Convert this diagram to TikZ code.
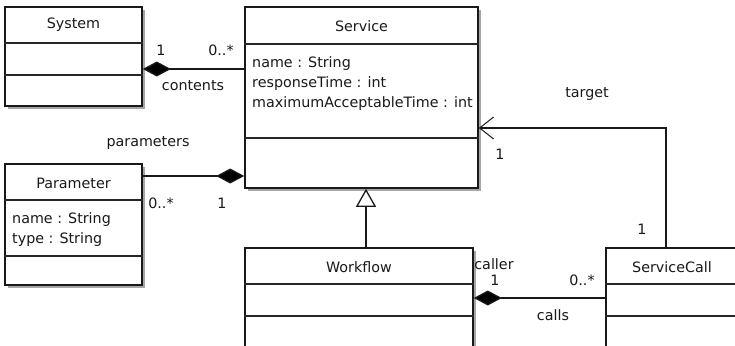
\documentclass[tikz,border=0pt]{standalone}
\usepackage{fontspec}
\setmainfont{DejaVu Sans}
\usetikzlibrary{arrows.meta,calc}

\tikzset{
  umlbox/.style={draw=black!90, line width=1.6pt, fill=white, inner sep=0pt,
    minimum width=#1},
  shadowbox/.style={fill=black!35, draw=none},
  sepline/.style={draw=black!85, line width=1.3pt},
  conn/.style={draw=black!90, line width=1.3pt},
  composite/.style={conn, {Diamond[length=28pt, width=15pt, fill=black]}-},
  navig/.style={conn, -{Straight Barb[length=14pt, width=22pt, line width=1pt]}},
  inherit/.style={conn, -{Triangle[open, length=18pt, width=20pt, fill=white]}},
  lbl/.style={inner sep=0pt, font=\fontsize{14.3}{16}\selectfont, text=black!90},
  title/.style={inner sep=0pt, font=\fontsize{14.3}{16}\selectfont, text=black!90},
  attr/.style={inner sep=0pt, anchor=base west, font=\fontsize{14.3}{16}\selectfont, text=black!90},
}

\begin{document}
\begin{tikzpicture}[x=1pt, y=-1pt]
\useasboundingbox (0,0) rectangle (735,345);
\fill[white] (0,0) rectangle (735,345);
\clip (0,0) rectangle (735,345);

% ---- drop shadows of the class boxes
\fill[shadowbox] (8,10) rectangle (145,109);
\fill[shadowbox] (248,10) rectangle (481,191);
\fill[shadowbox] (8,167) rectangle (145,288);
\fill[shadowbox] (248,251) rectangle (476,400);
\fill[shadowbox] (609,251) rectangle (800,400);

% ---- class boxes
\node[umlbox=137pt, minimum height=99pt]  (system)      at (73.5,56.5)  {};
\node[umlbox=233pt, minimum height=181pt] (service)     at (361.5,97.5) {};
\node[umlbox=137pt, minimum height=121pt] (parameter)   at (73.5,224.5) {};
\node[umlbox=228pt, minimum height=132pt] (workflow)    at (359,314)    {};
\node[umlbox=194pt, minimum height=132pt] (servicecall) at (703,314)    {};

% ---- compartment separators
\draw[sepline] (system.west |- 0,43) -- (system.east |- 0,43);
\draw[sepline] (system.west |- 0,75) -- (system.east |- 0,75);
\draw[sepline] (service.west |- 0,44) -- (service.east |- 0,44);
\draw[sepline] (service.west |- 0,138) -- (service.east |- 0,138);
\draw[sepline] (parameter.west |- 0,200) -- (parameter.east |- 0,200);
\draw[sepline] (parameter.west |- 0,256) -- (parameter.east |- 0,256);
\draw[sepline] (workflow.west |- 0,284) -- (workflow.east |- 0,284);
\draw[sepline] (workflow.west |- 0,316) -- (workflow.east |- 0,316);
\draw[sepline] (servicecall.west |- 0,284) -- (servicecall.east |- 0,284);
\draw[sepline] (servicecall.west |- 0,316) -- (servicecall.east |- 0,316);

% ---- class names
\node[title] (systemname)   at (73.5,25)  {System};
\node[title] (servicename)  at (361.5,26) {Service};
\node[title] (paramname)    at (73.5,183) {Parameter};
\node[title] (workflowname) at (359,267)  {Workflow};
\node[title] (callname)     at (672,267)  {ServiceCall};

% ---- attributes
\node[attr] (sattr1) at (252,67)  {name : String};
\node[attr] (sattr2) at (252,87)  {responseTime : int};
\node[attr] (sattr3) at (252,107) {maximumAcceptableTime : int};
\node[attr] (pattr1) at (12,223)  {name : String};
\node[attr] (pattr2) at (12,243)  {type : String};

% ---- associations
\draw[composite] (system.east |- 0,69) -- (service.west |- 0,69);
\draw[composite] (service.west |- 0,176) -- (parameter.east |- 0,176);
\draw[composite] (workflow.east |- 0,298) -- (servicecall.west |- 0,298);
\coordinate (bend) at (666,128);
\draw[navig] (servicecall.north -| bend) -- (bend) -- (service.east |- bend);
\draw[inherit] (workflow.north -| 366,0) -- (service.south -| 366,0);

% ---- association labels
\node[lbl] (m1)  at (161,50)  {1};
\node[lbl] (m2)  at (221,50)  {0..*};
\node[lbl] (r1)  at (193,86)  {contents};
\node[lbl] (r2)  at (148,143) {parameters};
\node[lbl] (m3)  at (161,203) {0..*};
\node[lbl] (m4)  at (222,203) {1};
\node[lbl] (r3)  at (587,94)  {target};
\node[lbl] (m5)  at (500,154) {1};
\node[lbl] (m6)  at (642,229) {1};
\node[lbl] (r4)  at (494,264) {caller};
\node[lbl] (m7)  at (495,280) {1};
\node[lbl] (m8)  at (582,280) {0..*};
\node[lbl] (r5)  at (553,315) {calls};
\end{tikzpicture}
\end{document}
